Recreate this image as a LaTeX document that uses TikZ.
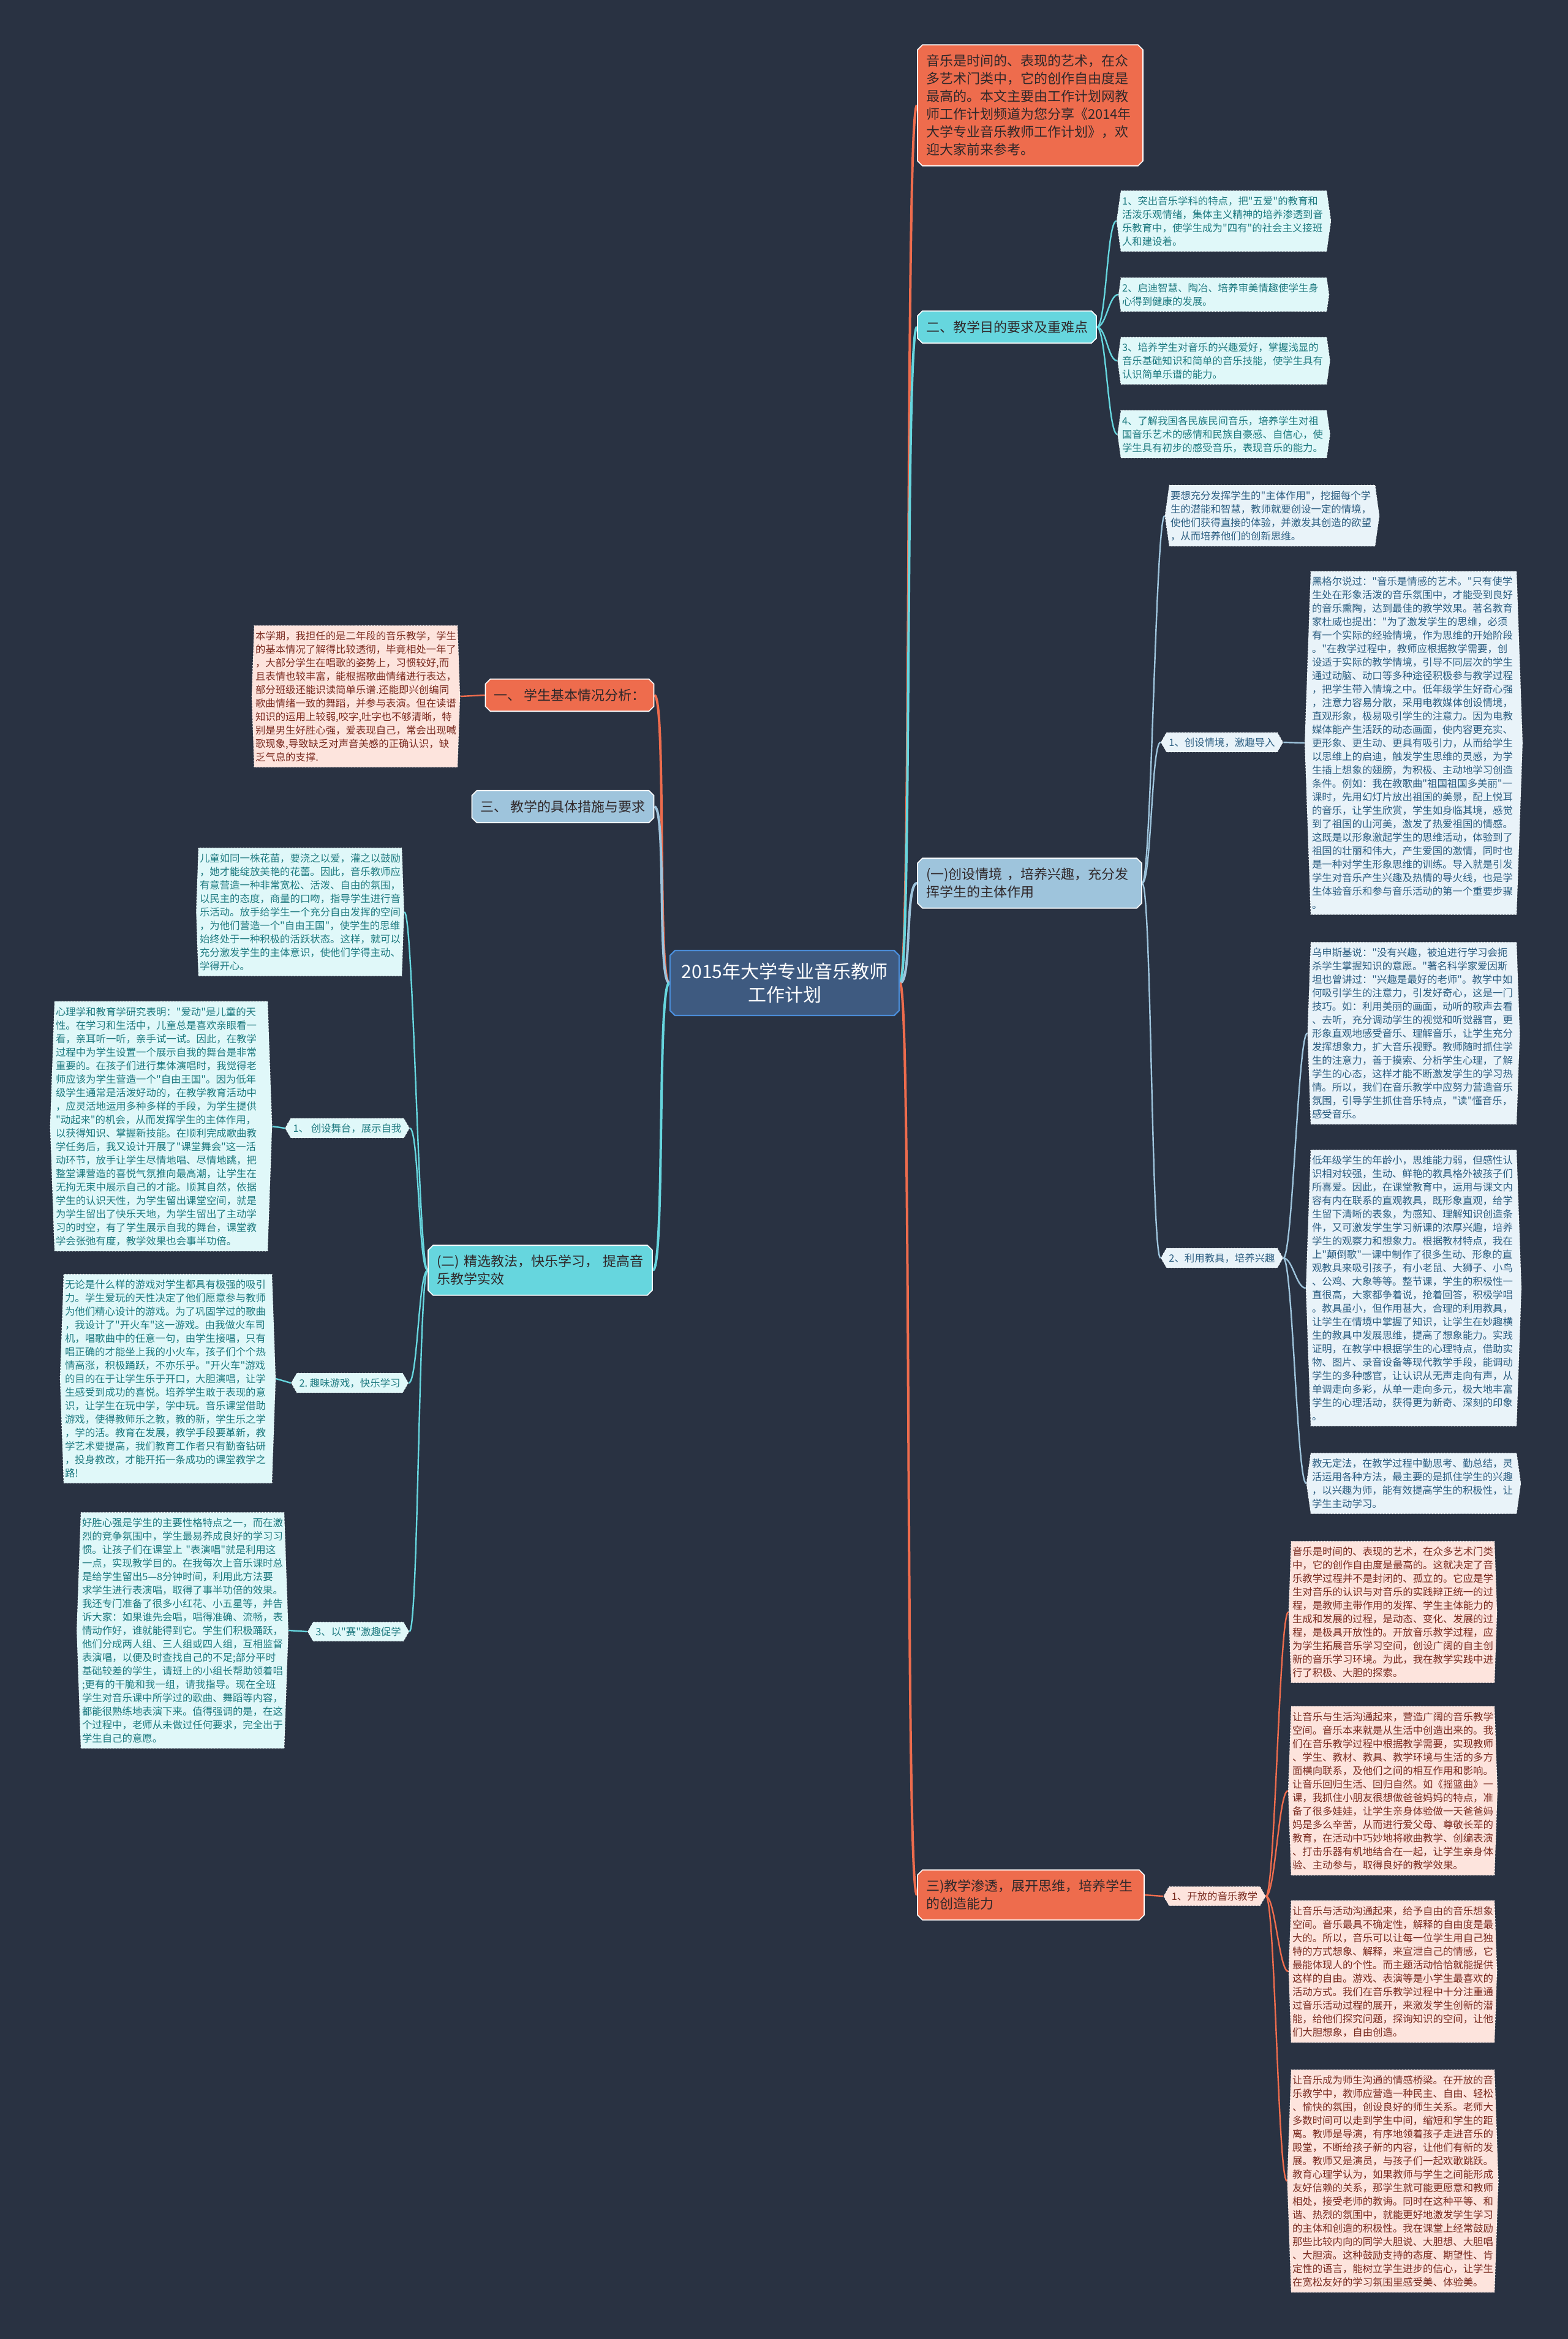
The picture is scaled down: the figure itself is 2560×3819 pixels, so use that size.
\documentclass[tikz,border=0pt]{standalone}
\usepackage{fontspec}
\newfontfamily\cjk{Noto Sans CJK SC}
\usepackage{tikz}
\usetikzlibrary{shapes.misc,shapes.symbols,backgrounds}

\definecolor{mapBg}     {RGB}{ 41,  50,  66}
\definecolor{mapOrange} {RGB}{238, 108,  77}
\definecolor{mapCyan}   {RGB}{102, 214, 222}
\definecolor{mapSteel}  {RGB}{158, 196, 220}
\definecolor{mapRoot}   {RGB}{ 62,  90, 128}
\definecolor{mapRootLn} {RGB}{ 74, 139, 214}
\definecolor{mapInk}    {RGB}{ 48,  40,  42}
\definecolor{cyanFill}  {RGB}{224, 248, 249}
\definecolor{cyanInk}   {RGB}{ 30, 122, 128}
\definecolor{steelFill} {RGB}{233, 243, 249}
\definecolor{steelInk}  {RGB}{ 45,  95, 130}
\definecolor{pinkFill}  {RGB}{253, 228, 221}
\definecolor{pinkInk}   {RGB}{122,  43,  32}

\newcommand\rootfont{\cjk\fontsize{15pt}{19pt}\selectfont}
\newcommand\topicfont{\cjk\fontsize{11pt}{14.5pt}\selectfont}
\newcommand\leaffont{\cjk\fontsize{8.2pt}{11pt}\selectfont}

\begin{document}
\begin{tikzpicture}[
  x=0.5pt, y=-0.5pt,
  root/.style={chamfered rectangle, chamfered rectangle sep=2pt,
               fill=mapRoot, draw=mapRootLn, line width=1.2pt,
               text=white, font=\rootfont, align=center,
               minimum width=187pt, minimum height=53pt},
  topic/.style={chamfered rectangle, chamfered rectangle sep=2pt,
                draw=white, line width=0.8pt, text=mapInk, font=\topicfont,
                align=left, inner xsep=5pt, inner ysep=6pt},
  leaf/.style={signal, signal to=east and west, signal pointer angle=176,
               draw=white, dotted, line width=0.5pt, font=\leaffont,
               align=left, inner xsep=1pt, inner ysep=4.5pt, text width=166pt},
  short/.style={signal pointer angle=164},
  tag/.style={leaf, text width=, signal pointer angle=120,
              inner xsep=2pt, inner ysep=4pt},
  cyanbox/.style={fill=cyanFill, text=cyanInk},
  steelbox/.style={fill=steelFill, text=steelInk},
  pinkbox/.style={fill=pinkFill, text=pinkInk},
  link/.style={line width=2pt},
  sublink/.style={line width=1.2pt},
]
  % centre
  \node[root] (root) at (1281,1605) {2015年大学专业音乐教师\\工作计划};

  % ---- right half ----
  \node[topic, fill=mapOrange, text width=170pt, minimum height=98pt] (intro) at (1682,172)
    {音乐是时间的、表现的艺术，在众\\多艺术门类中，它的创作自由度是\\最高的。本文主要由工作计划网教\\师工作计划频道为您分享《2014年\\大学专业音乐教师工作计划》，欢\\迎大家前来参考。};

  \node[topic, fill=mapCyan] (aim) at (1644,534) {二、教学目的要求及重难点};
  \node[leaf, short, cyanbox] (aimA) at (1998,361)
    {1、突出音乐学科的特点，把"五爱"的教育和\\活泼乐观情绪，集体主义精神的培养渗透到音\\乐教育中，使学生成为"四有"的社会主义接班\\人和建设着。};
  \node[leaf, short, cyanbox] (aimB) at (1998,481)
    {2、启迪智慧、陶冶、培养审美情趣使学生身\\心得到健康的发展。};
  \node[leaf, short, cyanbox] (aimC) at (1998,589)
    {3、培养学生对音乐的兴趣爱好，掌握浅显的\\音乐基础知识和简单的音乐技能，使学生具有\\认识简单乐谱的能力。};
  \node[leaf, short, cyanbox] (aimD) at (1998,709)
    {4、了解我国各民族民间音乐，培养学生对祖\\国音乐艺术的感情和民族自豪感、自信心，使\\学生具有初步的感受音乐，表现音乐的能力。};

  \node[topic, fill=mapSteel, text width=169pt] (scene) at (1681,1442)
    {(一)创设情境~，培养兴趣，充分发\\挥学生的主体作用};
  \node[leaf, short, steelbox] (sceneIntro) at (2077,842)
    {要想充分发挥学生的"主体作用"，挖掘每个学\\生的潜能和智慧，教师就要创设一定的情境，\\使他们获得直接的体验，并激发其创造的欲望\\，从而培养他们的创新思维。};
  \node[tag, steelbox] (sceneA) at (1995,1212) {1、创设情境，激趣导入};
  \node[leaf, steelbox] (hegel) at (2308,1213)
    {黑格尔说过："音乐是情感的艺术。"只有使学\\生处在形象活泼的音乐氛围中，才能受到良好\\的音乐熏陶，达到最佳的教学效果。著名教育\\家杜威也提出："为了激发学生的思维，必须\\有一个实际的经验情境，作为思维的开始阶段\\。"在教学过程中，教师应根据教学需要，创\\设适于实际的教学情境，引导不同层次的学生\\通过动脑、动口等多种途径积极参与教学过程\\，把学生带入情境之中。低年级学生好奇心强\\，注意力容易分散，采用电教媒体创设情境，\\直观形象，极易吸引学生的注意力。因为电教\\媒体能产生活跃的动态画面，使内容更充实、\\更形象、更生动、更具有吸引力，从而给学生\\以思维上的启迪，触发学生思维的灵感，为学\\生插上想象的翅膀，为积极、主动地学习创造\\条件。例如：我在教歌曲"祖国祖国多美丽"一\\课时，先用幻灯片放出祖国的美景，配上悦耳\\的音乐，让学生欣赏，学生如身临其境，感觉\\到了祖国的山河美，激发了热爱祖国的情感。\\这既是以形象激起学生的思维活动，体验到了\\祖国的壮丽和伟大，产生爱国的激情，同时也\\是一种对学生形象思维的训练。导入就是引发\\学生对音乐产生兴趣及热情的导火线，也是学\\生体验音乐和参与音乐活动的第一个重要步骤\\。};
  \node[tag, steelbox] (sceneB) at (1995,2054) {2、利用教具，培养兴趣};
  \node[leaf, steelbox] (ushin) at (2308,1687)
    {乌申斯基说："没有兴趣，被迫进行学习会扼\\杀学生掌握知识的意愿。"著名科学家爱因斯\\坦也曾讲过："兴趣是最好的老师"。教学中如\\何吸引学生的注意力，引发好奇心，这是一门\\技巧。如：利用美丽的画面，动听的歌声去看\\、去听，充分调动学生的视觉和听觉器官，更\\形象直观地感受音乐、理解音乐，让学生充分\\发挥想象力，扩大音乐视野。教师随时抓住学\\生的注意力，善于摸索、分析学生心理，了解\\学生的心态，这样才能不断激发学生的学习热\\情。所以，我们在音乐教学中应努力营造音乐\\氛围，引导学生抓住音乐特点，"读"懂音乐，\\感受音乐。};
  \node[leaf, steelbox] (aids) at (2308,2103)
    {低年级学生的年龄小，思维能力弱，但感性认\\识相对较强，生动、鲜艳的教具格外被孩子们\\所喜爱。因此，在课堂教育中，运用与课文内\\容有内在联系的直观教具，既形象直观，给学\\生留下清晰的表象，为感知、理解知识创造条\\件，又可激发学生学习新课的浓厚兴趣，培养\\学生的观察力和想象力。根据教材特点，我在\\上"颠倒歌"一课中制作了很多生动、形象的直\\观教具来吸引孩子，有小老鼠、大狮子、小鸟\\、公鸡、大象等等。整节课，学生的积极性一\\直很高，大家都争着说，抢着回答，积极学唱\\。教具虽小，但作用甚大，合理的利用教具，\\让学生在情境中掌握了知识，让学生在妙趣横\\生的教具中发展思维，提高了想象能力。实践\\证明，在教学中根据学生的心理特点，借助实\\物、图片、录音设备等现代教学手段，能调动\\学生的多种感官，让认识从无声走向有声，从\\单调走向多彩，从单一走向多元，极大地丰富\\学生的心理活动，获得更为新奇、深刻的印象\\。};
  \node[leaf, short, steelbox] (noRule) at (2308,2422)
    {教无定法，在教学过程中勤思考、勤总结，灵\\活运用各种方法，最主要的是抓住学生的兴趣\\，以兴趣为师，能有效提高学生的积极性，让\\学生主动学习。};

  \node[topic, fill=mapOrange, text width=171pt] (open) at (1683,3094)
    {三)教学渗透，展开思维，培养学生\\的创造能力};
  \node[tag, pinkbox] (openA) at (1983,3096) {1、开放的音乐教学};
  \node[leaf, pinkbox, text width=164pt] (openP1) at (2274,2632)
    {音乐是时间的、表现的艺术，在众多艺术门类\\中，它的创作自由度是最高的。这就决定了音\\乐教学过程并不是封闭的、孤立的。它应是学\\生对音乐的认识与对音乐的实践辩正统一的过\\程，是教师主带作用的发挥、学生主体能力的\\生成和发展的过程，是动态、变化、发展的过\\程，是极具开放性的。开放音乐教学过程，应\\为学生拓展音乐学习空间，创设广阔的自主创\\新的音乐学习环境。为此，我在教学实践中进\\行了积极、大胆的探索。};
  \node[leaf, pinkbox, text width=164pt] (openP2) at (2274,2924)
    {让音乐与生活沟通起来，营造广阔的音乐教学\\空间。音乐本来就是从生活中创造出来的。我\\们在音乐教学过程中根据教学需要，实现教师\\、学生、教材、教具、教学环境与生活的多方\\面横向联系，及他们之间的相互作用和影响。\\让音乐回归生活、回归自然。如《摇篮曲》一\\课，我抓住小朋友很想做爸爸妈妈的特点，准\\备了很多娃娃，让学生亲身体验做一天爸爸妈\\妈是多么辛苦，从而进行爱父母、尊敬长辈的\\教育，在活动中巧妙地将歌曲教学、创编表演\\、打击乐器有机地结合在一起，让学生亲身体\\验、主动参与，取得良好的教学效果。};
  \node[leaf, pinkbox, text width=164pt] (openP3) at (2274,3219)
    {让音乐与活动沟通起来，给予自由的音乐想象\\空间。音乐最具不确定性，解释的自由度是最\\大的。所以，音乐可以让每一位学生用自己独\\特的方式想象、解释，来宣泄自己的情感，它\\最能体现人的个性。而主题活动恰恰就能提供\\这样的自由。游戏、表演等是小学生最喜欢的\\活动方式。我们在音乐教学过程中十分注重通\\过音乐活动过程的展开，来激发学生创新的潜\\能，给他们探究问题，探询知识的空间，让他\\们大胆想象，自由创造。};
  \node[leaf, pinkbox, text width=164pt] (openP4) at (2274,3561)
    {让音乐成为师生沟通的情感桥梁。在开放的音\\乐教学中，教师应营造一种民主、自由、轻松\\、愉快的氛围，创设良好的师生关系。老师大\\多数时间可以走到学生中间，缩短和学生的距\\离。教师是导演，有序地领着孩子走进音乐的\\殿堂，不断给孩子新的内容，让他们有新的发\\展。教师又是演员，与孩子们一起欢歌跳跃。\\教育心理学认为，如果教师与学生之间能形成\\友好信赖的关系，那学生就可能更愿意和教师\\相处，接受老师的教诲。同时在这种平等、和\\谐、热烈的氛围中，就能更好地激发学生学习\\的主体和创造的积极性。我在课堂上经常鼓励\\那些比较内向的同学大胆说、大胆想、大胆唱\\、大胆演。这种鼓励支持的态度、期望性、肯\\定性的语言，能树立学生进步的信心，让学生\\在宽松友好的学习氛围里感受美、体验美。};

  % ---- left half ----
  \node[topic, fill=mapOrange] (basic) at (930,1135) {一、~学生基本情况分析：};
  \node[leaf, pinkbox, text width=164pt] (basicTxt) at (581,1137)
    {本学期，我担任的是二年段的音乐教学，学生\\的基本情况了解得比较透彻，毕竟相处一年了\\，大部分学生在唱歌的姿势上，习惯较好,而\\且表情也较丰富，能根据歌曲情绪进行表达，\\部分班级还能识读简单乐谱.还能即兴创编同\\歌曲情绪一致的舞蹈，并参与表演。但在读谱\\知识的运用上较弱,咬字,吐字也不够清晰，特\\别是男生好胜心强，爱表现自己，常会出现喊\\歌现象,导致缺乏对声音美感的正确认识，缺\\乏气息的支撑.};

  \node[topic, fill=mapSteel] (measure) at (919,1317) {三、~教学的具体措施与要求};

  \node[topic, fill=mapCyan, text width=169pt] (method) at (882,2074)
    {(二)~精选教法，快乐学习，~提高音\\乐教学实效};
  \node[leaf, cyanbox, text width=164pt] (methodIntro) at (490,1489)
    {儿童如同一株花苗，要浇之以爱，灌之以鼓励\\，她才能绽放美艳的花蕾。因此，音乐教师应\\有意营造一种非常宽松、活泼、自由的氛围，\\以民主的态度，商量的口吻，指导学生进行音\\乐活动。放手给学生一个充分自由发挥的空间\\，为他们营造一个"自由王国"，使学生的思维\\始终处于一种积极的活跃状态。这样，就可以\\充分激发学生的主体意识，使他们学得主动、\\学得开心。};
  \node[tag, cyanbox] (stage) at (567,1842) {1、~创设舞台，展示自我};
  \node[leaf, cyanbox, text width=172pt] (stageTxt) at (263,1839)
    {心理学和教育学研究表明："爱动"是儿童的天\\性。在学习和生活中，儿童总是喜欢亲眼看一\\看，亲耳听一听，亲手试一试。因此，在教学\\过程中为学生设置一个展示自我的舞台是非常\\重要的。在孩子们进行集体演唱时，我觉得老\\师应该为学生营造一个"自由王国"。因为低年\\级学生通常是活泼好动的，在教学教育活动中\\，应灵活地运用多种多样的手段，为学生提供\\"动起来"的机会，从而发挥学生的主体作用，\\以获得知识、掌握新技能。在顺利完成歌曲教\\学任务后，我又设计开展了"课堂舞会"这一活\\动环节，放手让学生尽情地唱、尽情地跳，把\\整堂课营造的喜悦气氛推向最高潮，让学生在\\无拘无束中展示自己的才能。顺其自然，依据\\学生的认识天性，为学生留出课堂空间，就是\\为学生留出了快乐天地，为学生留出了主动学\\习的时空，有了学生展示自我的舞台，课堂教\\学会张弛有度，教学效果也会事半功倍。};
  \node[tag, cyanbox] (game) at (571,2258) {2.~趣味游戏，快乐学习};
  \node[leaf, cyanbox, text width=168pt] (gameTxt) at (274,2251)
    {无论是什么样的游戏对学生都具有极强的吸引\\力。学生爱玩的天性决定了他们愿意参与教师\\为他们精心设计的游戏。为了巩固学过的歌曲\\，我设计了"开火车"这一游戏。由我做火车司\\机，唱歌曲中的任意一句，由学生接唱，只有\\唱正确的才能坐上我的小火车，孩子们个个热\\情高涨，积极踊跃，不亦乐乎。"开火车"游戏\\的目的在于让学生乐于开口，大胆演唱，让学\\生感受到成功的喜悦。培养学生敢于表现的意\\识，让学生在玩中学，学中玩。音乐课堂借助\\游戏，使得教师乐之教，教的新，学生乐之学\\，学的活。教育在发展，教学手段要革新，教\\学艺术要提高，我们教育工作者只有勤奋钻研\\，投身教改，才能开拓一条成功的课堂教学之\\路!};
  \node[tag, cyanbox] (contest) at (585,2664) {3、以"赛"激趣促学};
  \node[leaf, cyanbox, text width=164pt] (contestTxt) at (298,2662)
    {好胜心强是学生的主要性格特点之一，而在激\\烈的竞争氛围中，学生最易养成良好的学习习\\惯。让孩子们在课堂上~"表演唱"就是利用这\\一点，实现教学目的。在我每次上音乐课时总\\是给学生留出5—8分钟时间，利用此方法要\\求学生进行表演唱，取得了事半功倍的效果。\\我还专门准备了很多小红花、小五星等，并告\\诉大家：如果谁先会唱，唱得准确、流畅，表\\情动作好，谁就能得到它。学生们积极踊跃，\\他们分成两人组、三人组或四人组，互相监督\\表演唱，以便及时查找自己的不足;部分平时\\基础较差的学生，请班上的小组长帮助领着唱\\;更有的干脆和我一组，请我指导。现在全班\\学生对音乐课中所学过的歌曲、舞蹈等内容，\\都能很熟练地表演下来。值得强调的是，在这\\个过程中，老师从未做过任何要求，完全出于\\学生自己的意愿。};

  % connectors and page colour go underneath
  \begin{scope}[on background layer]
    \fill[mapBg] (0,0) rectangle (2560,3819);
    \useasboundingbox (0,0) rectangle (2560,3819);

    \draw[link, mapOrange] (root.east) .. controls +(20,0) and +(-20,0) .. (intro.west);
    \draw[link, mapCyan]   (root.east) .. controls +(20,0) and +(-20,0) .. (aim.west);
    \draw[link, mapSteel]  (root.east) .. controls +(20,0) and +(-20,0) .. (scene.west);
    \draw[link, mapOrange] (root.east) .. controls +(20,0) and +(-20,0) .. (open.west);
    \draw[link, mapOrange] (root.west) .. controls +(-20,0) and +(20,0) .. (basic.east);
    \draw[link, mapSteel]  (root.west) .. controls +(-20,0) and +(20,0) .. (measure.east);
    \draw[link, mapCyan]   (root.west) .. controls +(-20,0) and +(20,0) .. (method.east);

    \foreach \n in {aimA,aimB,aimC,aimD}
      \draw[sublink, mapCyan] (aim.east) .. controls +(15,0) and +(-15,0) .. (\n.west);
    \foreach \n in {sceneIntro,sceneA,sceneB}
      \draw[sublink, mapSteel] (scene.east) .. controls +(15,0) and +(-15,0) .. (\n.west);
    \draw[sublink, mapSteel] (sceneA.east) -- (hegel.west);
    \foreach \n in {ushin,aids,noRule}
      \draw[sublink, mapSteel] (sceneB.east) .. controls +(15,0) and +(-15,0) .. (\n.west);
    \draw[sublink, mapOrange] (open.east) -- (openA.west);
    \foreach \n in {openP1,openP2,openP3,openP4}
      \draw[sublink, mapOrange] (openA.east) .. controls +(15,0) and +(-15,0) .. (\n.west);

    \draw[sublink, mapOrange] (basic.west) -- (basicTxt.east);
    \foreach \n in {methodIntro,stage,game,contest}
      \draw[sublink, mapCyan] (method.west) .. controls +(-15,0) and +(15,0) .. (\n.east);
    \draw[sublink, mapCyan] (stage.west) -- (stageTxt.east);
    \draw[sublink, mapCyan] (game.west) -- (gameTxt.east);
    \draw[sublink, mapCyan] (contest.west) -- (contestTxt.east);
  \end{scope}
\end{tikzpicture}
\end{document}
